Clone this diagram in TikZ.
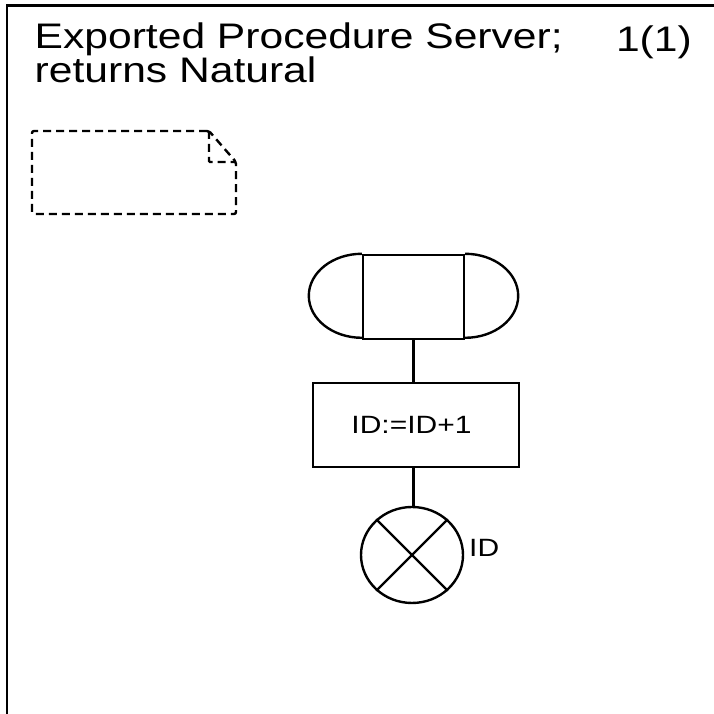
\documentclass[tikz,border=0pt]{standalone}
\usepackage{fontspec}
\newfontfamily\diafont[FakeStretch=1.2]{Liberation Sans}
\usetikzlibrary{shapes.geometric}
\tikzset{
  x=1pt, y=1pt,
  frameline/.style={line width=2.8pt, line cap=rect},
  symline/.style={line width=2.4pt},
  titletext/.style={inner sep=0pt, align=left, font=\diafont\fontsize{35.5}{31}\selectfont},
  labeltext/.style={inner sep=0pt, font=\diafont\fontsize{25}{28}\selectfont},
  textsym/.style={symline, dash pattern=on 8pt off 5pt, rounded corners=2pt},
  startsym/.style={symline, draw, rectangle, minimum width=101pt, minimum height=84pt, inner sep=0pt},
  taskbox/.style={symline, draw, rectangle, minimum width=206pt, minimum height=84pt, inner sep=0pt, font=\diafont\fontsize{25}{28}\selectfont},
  retsym/.style={symline, draw, ellipse, minimum width=102pt, minimum height=96pt, inner sep=0pt},
}
\begin{document}
\begin{tikzpicture}
\useasboundingbox (0,0) rectangle (713,714);
% frame
\coordinate (fbot) at (7,-5);
\coordinate (ftl) at (7,708.5);
\coordinate (ftr) at (720,708.5);
\draw[frameline] (fbot) -- (ftl) -- (ftr);
% title
\node[titletext, anchor=base west] (title) at (34.5,631) {Exported Procedure Server;\\returns Natural};
\node[titletext, anchor=base east] (page) at (692,662) {1(1)};
% dashed text symbol
\draw[textsym] (209,583) -- (32,583) -- (32,500) -- (236,500) -- (236,552) -- cycle;
\draw[textsym, rounded corners=1pt] (209,583) -- (209,552) -- (236,552);
% procedure start
\node[startsym] (start) at (413.5,417) {};
\draw[symline] (start.north west) arc[start angle=90, end angle=270, x radius=53pt, y radius=42pt];
\draw[symline] (start.north east) arc[start angle=90, end angle=-90, x radius=53pt, y radius=42pt];
% task
\node[taskbox] (task) at (416,289) {\hspace{-9pt}ID:=ID+1};
% return
\node[retsym] (ret) at (412,159) {};
\draw[symline] (ret.135) -- (ret.-45);
\draw[symline] (ret.45) -- (ret.-135);
\node[labeltext, anchor=base west] (retlabel) at (469,157) {ID};
% connectors
\draw[symline] (start.south) -- (start.south |- task.north);
\draw[symline] (start.south |- task.south) -- (start.south |- ret.north);
\end{tikzpicture}
\end{document}
